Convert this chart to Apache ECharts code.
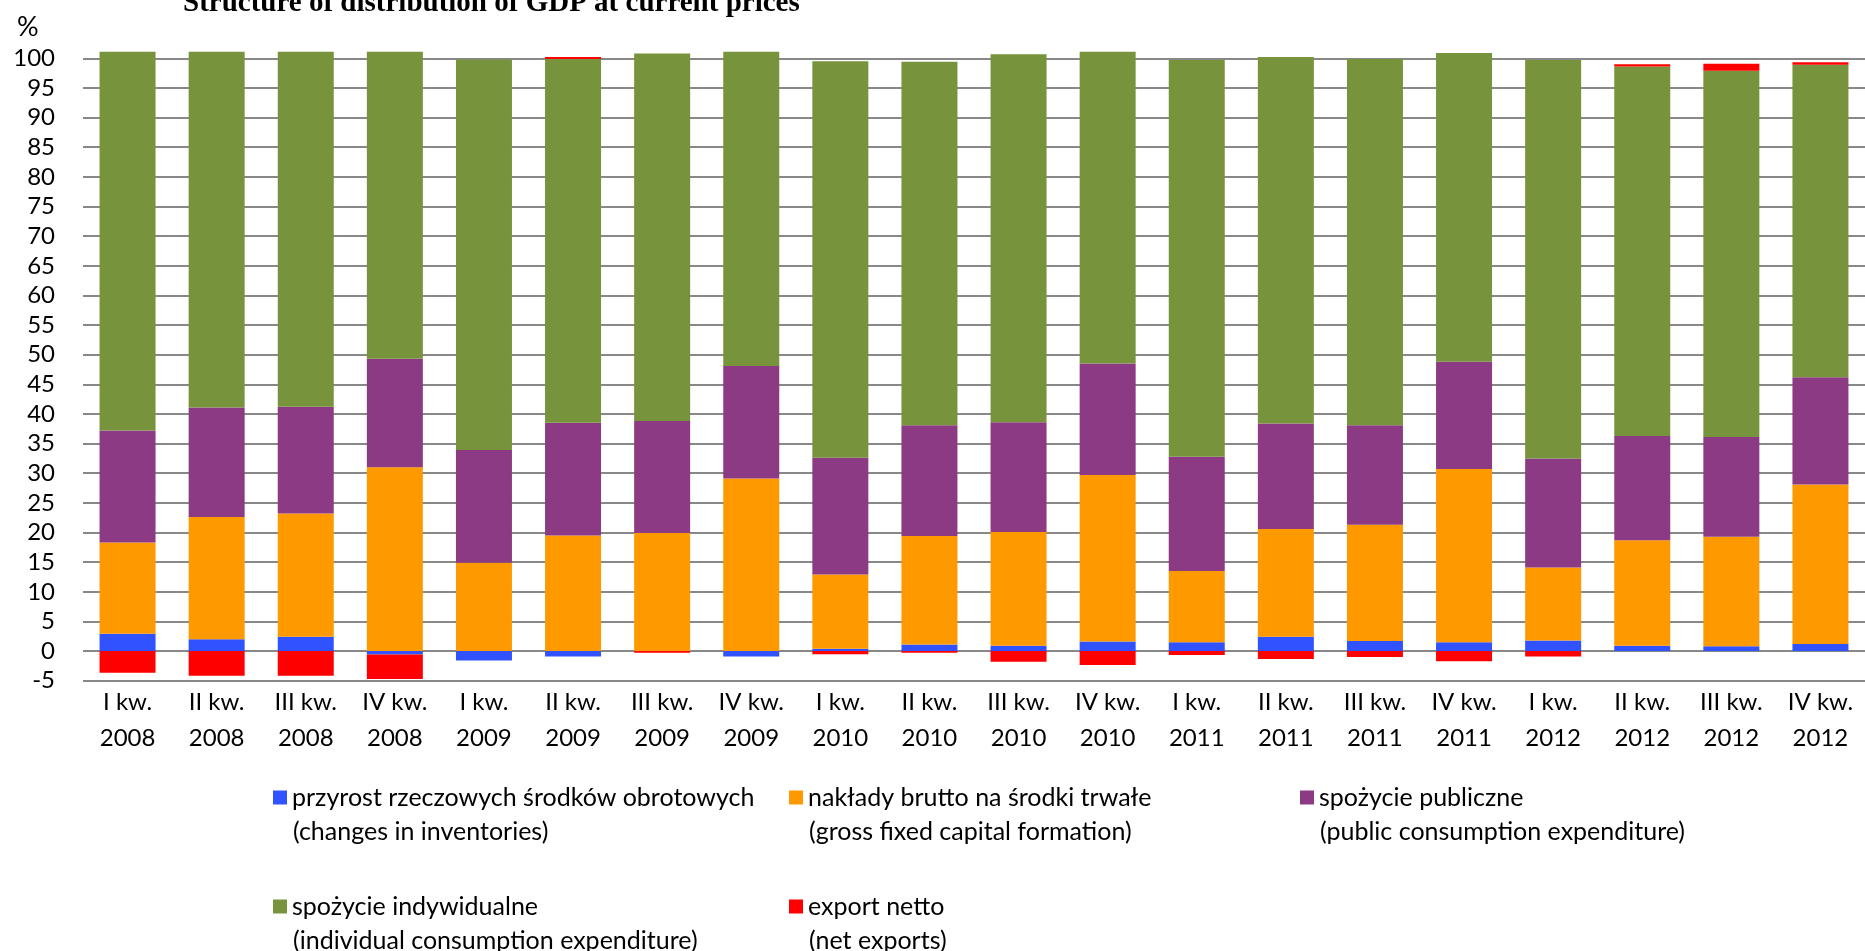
<!DOCTYPE html>
<html>
<head>
<meta charset="utf-8">
<script src="https://cdn.jsdelivr.net/npm/echarts@6/dist/echarts.min.js"></script>
<style>
html,body{margin:0;padding:0;background:#fff;}
#chart{width:1865px;height:951px;}
</style>
</head>
<body>
<div id="chart"></div>
<script>
const categories = [
  'I kw.\n2008','II kw.\n2008','III kw.\n2008','IV kw.\n2008',
  'I kw.\n2009','II kw.\n2009','III kw.\n2009','IV kw.\n2009',
  'I kw.\n2010','II kw.\n2010','III kw.\n2010','IV kw.\n2010',
  'I kw.\n2011','II kw.\n2011','III kw.\n2011','IV kw.\n2011',
  'I kw.\n2012','II kw.\n2012','III kw.\n2012','IV kw.\n2012'
];
const inventories = [2.9, 2.0, 2.4, -0.6, -1.6, -0.9, 0.0, -0.9, 0.4, 1.1, 0.9, 1.6, 1.5, 2.4, 1.7, 1.5, 1.8, 0.9, 0.8, 1.2];
const fixedCapital = [15.4, 20.6, 20.8, 31.0, 14.9, 19.5, 19.9, 29.1, 12.5, 18.3, 19.2, 28.1, 12.0, 18.2, 19.6, 29.2, 12.3, 17.8, 18.5, 26.9];
const publicCons = [18.9, 18.5, 18.0, 18.3, 19.0, 19.0, 18.9, 19.0, 19.7, 18.7, 18.5, 18.8, 19.3, 17.8, 16.8, 18.1, 18.4, 17.6, 16.8, 18.1];
const individualCons = [63.9, 60.0, 59.9, 51.8, 65.9, 61.4, 62.0, 53.0, 66.9, 61.3, 62.1, 52.6, 66.9, 61.8, 61.8, 52.1, 67.2, 62.3, 61.8, 52.7];
const netExports = [-3.65, -4.15, -4.15, -4.1, 0.0, 0.3, -0.3, 0.0, -0.55, -0.3, -1.8, -2.35, -0.65, -1.35, -1.0, -1.7, -0.9, 0.4, 1.2, 0.45];

const names = [
  'przyrost rzeczowych środków obrotowych',
  'nakłady brutto na środki trwałe',
  'spożycie publiczne',
  'spożycie indywidualne',
  'export netto'
];
const namesEn = [
  '(changes in inventories)',
  '(gross fixed capital formation)',
  '(public consumption expenditure)',
  '(individual consumption expenditure)',
  '(net exports)'
];
const colors = ['#3152ff', '#ff9900', '#8b3a83', '#77933c', '#ff0000'];
const yTicks = { min: -5, max: 100, interval: 5 };

const FONT = 'Lato';
const legendPos = [[273, 785], [789, 785], [1300, 785], [273, 894], [789, 894]];

const chart = echarts.init(document.getElementById('chart'), null, { renderer: 'canvas' });
const dataSets = [inventories, fixedCapital, publicCons, individualCons, netExports];

const option = {
  animation: false,
  backgroundColor: '#ffffff',
  title: {
    text: 'Structure of distribution of GDP at current prices',
    left: 178, top: -16,
    textStyle: { fontFamily: 'Liberation Serif', fontWeight: 'bold', fontSize: 29, color: '#000' }
  },
  grid: { left: 83, right: 0, top: 58.3, bottom: 270.3, containLabel: false },
  xAxis: {
    type: 'category',
    data: categories,
    axisLine: { onZero: false, show: false },
    axisTick: { show: false },
    axisLabel: { fontFamily: FONT, fontSize: 24, color: '#000', lineHeight: 36, margin: 4, interval: 0 }
  },
  yAxis: {
    type: 'value',
    min: yTicks.min, max: yTicks.max, interval: yTicks.interval,
    axisLine: { show: false },
    axisTick: { show: false },
    axisLabel: { fontFamily: FONT, fontSize: 24, color: '#000', margin: 28 },
    splitLine: { lineStyle: { color: '#888888', width: 2 } }
  },
  legend: names.map((n, i) => ({
    data: [n],
    left: legendPos[i][0], top: legendPos[i][1],
    padding: 0,
    itemWidth: 14, itemHeight: 14,
    icon: 'rect',
    textStyle: { fontFamily: FONT, fontSize: 25, color: '#000' },
    selectedMode: false
  })),
  graphic: namesEn.map((t, i) => ({
    type: 'text',
    left: legendPos[i][0] + 20,
    top: legendPos[i][1] + 34,
    style: { text: t, font: '25px Lato', fill: '#000' }
  })).concat([{
    type: 'text', left: 17, top: 14,
    style: { text: '%', font: '27px Lato', fill: '#000' }
  }]),
  series: dataSets.map((d, i) => ({
    name: names[i],
    type: 'bar',
    stack: 'total',
    data: d,
    barWidth: 56,
    clip: false,
    itemStyle: { color: colors[i] },
    emphasis: { disabled: true }
  }))
};
chart.setOption(option);
</script>
</body>
</html>
